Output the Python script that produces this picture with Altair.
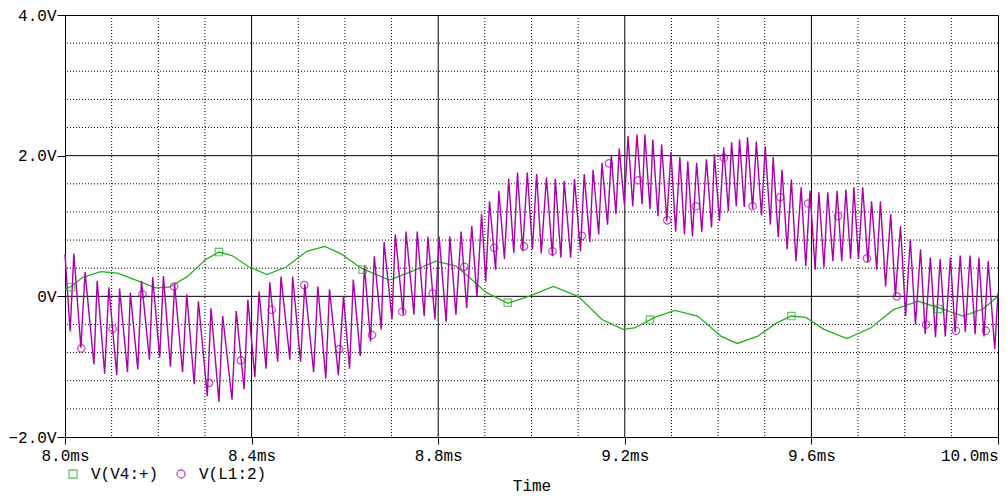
import altair as alt
import pandas as pd

# ---------------- data ----------------
mag_t = [8.000, 8.011, 8.019, 8.034, 8.043, 8.062, 8.069, 8.085, 8.094, 8.111,
         8.117, 8.134, 8.140, 8.156, 8.164, 8.181, 8.188, 8.203, 8.211, 8.226,
         8.235, 8.252, 8.261, 8.277, 8.286, 8.305, 8.313, 8.330, 8.338, 8.358,
         8.367, 8.384, 8.392, 8.407,
         8.416, 8.431, 8.439, 8.456, 8.463, 8.482, 8.488, 8.505, 8.514, 8.533,
         8.542, 8.559, 8.567, 8.586, 8.597, 8.610, 8.618, 8.633, 8.642, 8.655,
         8.663, 8.678, 8.684, 8.701, 8.708, 8.725, 8.731, 8.748, 8.755, 8.770,
         8.778, 8.793, 8.802,
         8.817, 8.825, 8.838, 8.849, 8.861, 8.872, 8.883, 8.893, 8.902, 8.910,
         8.923, 8.930, 8.942, 8.951, 8.962, 8.970, 8.981, 8.991, 9.002, 9.011,
         9.021, 9.032, 9.045, 9.051, 9.063, 9.070, 9.084, 9.092, 9.105, 9.113,
         9.125, 9.132, 9.144, 9.151, 9.163, 9.171, 9.181, 9.188, 9.199,
         9.207, 9.217, 9.226, 9.237, 9.243, 9.254, 9.260, 9.271, 9.279, 9.290,
         9.299, 9.309, 9.318, 9.328, 9.335, 9.345, 9.354, 9.365, 9.375, 9.386,
         9.392, 9.403, 9.412, 9.422, 9.429, 9.439, 9.446, 9.456, 9.463, 9.474,
         9.482, 9.493, 9.501, 9.512, 9.518, 9.529, 9.537, 9.548, 9.557, 9.567,
         9.578, 9.588, 9.597, 9.608,
         9.616, 9.627, 9.635, 9.646, 9.655, 9.665, 9.674, 9.684, 9.691, 9.701,
         9.710, 9.721, 9.729, 9.740, 9.748, 9.759, 9.770, 9.780, 9.791, 9.802,
         9.812, 9.823, 9.834, 9.844, 9.855, 9.866, 9.876, 9.887, 9.898, 9.908,
         9.919, 9.930, 9.940, 9.951, 9.959, 9.970, 9.979, 9.993, 10.000]
mag_v = [0.60, -0.50, 0.61, -0.73, 0.35, -0.97, 0.22, -1.10, 0.13, -1.12,
         0.11, -1.08, 0.05, -1.04, 0.22, -0.90, 0.27, -0.87, 0.29, -1.00,
         0.17, -1.08, 0.03, -1.25, -0.07, -1.42, -0.17, -1.50, -0.28, -1.47,
         -0.21, -1.32, -0.05, -1.15,
         0.07, -1.03, 0.20, -0.93, 0.28, -0.90, 0.28, -0.93, 0.17, -1.08,
         0.14, -1.17, 0.10, -1.12, 0.00, -1.03, 0.24, -0.85, 0.43, -0.64,
         0.57, -0.47, 0.77, -0.33, 0.88, -0.26, 0.92, -0.26, 0.92, -0.28,
         0.85, -0.33, 0.85,
         -0.36, 0.85, -0.26, 0.92, -0.17, 1.00, -0.01, 1.17, 0.21, 1.35,
         0.38, 1.50, 0.53, 1.67, 0.62, 1.76, 0.64, 1.76, 0.67, 1.74,
         0.61, 1.69, 0.57, 1.67, 0.55, 1.64, 0.55, 1.67, 0.64, 1.74,
         0.77, 1.80, 0.88, 1.90, 1.02, 2.00, 1.17, 2.10, 1.31,
         2.28, 1.28, 2.30, 1.31, 2.30, 1.24, 2.23, 1.14, 2.16, 1.07,
         2.05, 0.92, 1.98, 0.88, 1.92, 0.85, 1.90, 0.92, 1.95, 0.98,
         2.02, 1.07, 2.12, 1.21, 2.19, 1.28, 2.23, 1.27, 2.26, 1.24,
         2.20, 1.15, 2.13, 1.02, 1.98, 0.84, 1.80, 0.67, 1.66, 0.50,
         1.55, 0.43, 1.50, 0.38,
         1.48, 0.41, 1.48, 0.50, 1.50, 0.50, 1.52, 0.53, 1.55, 0.53,
         1.55, 0.48, 1.35, 0.38, 1.35, 0.14, 1.17, 0.00, 1.00, -0.28,
         0.81, -0.40, 0.67, -0.54, 0.55, -0.58, 0.53, -0.57, 0.55, -0.51,
         0.58, -0.51, 0.58, -0.54, 0.55, -0.57, 0.50, -0.75, 0.05]

grn_t = [8.000, 8.013, 8.038, 8.077, 8.113, 8.156, 8.194, 8.224, 8.262, 8.301,
         8.330, 8.358, 8.394, 8.433, 8.475, 8.518, 8.557, 8.593, 8.635, 8.695,
         8.742, 8.795, 8.838, 8.870, 8.902, 8.949, 8.994, 9.047, 9.100, 9.151,
         9.196, 9.221, 9.264, 9.307, 9.356, 9.407, 9.441, 9.484, 9.525, 9.557,
         9.588, 9.627, 9.676, 9.727, 9.776, 9.829, 9.872, 9.925, 9.968, 10.000]
grn_v = [0.10, 0.14, 0.27, 0.35, 0.33, 0.22, 0.12, 0.13, 0.28, 0.52,
         0.63, 0.58, 0.42, 0.31, 0.42, 0.64, 0.71, 0.60, 0.40, 0.23,
         0.35, 0.50, 0.43, 0.25, 0.06, -0.10, 0.00, 0.14, 0.00, -0.33,
         -0.47, -0.45, -0.30, -0.20, -0.28, -0.57, -0.67, -0.57, -0.38, -0.28,
         -0.30, -0.47, -0.60, -0.45, -0.19, -0.07, -0.16, -0.28, -0.18, 0.00]

sq_t = [8.013, 8.330, 8.638, 8.949, 9.254, 9.557, 9.872]
sq_v = [0.13, 0.63, 0.38, -0.09, -0.33, -0.28, -0.18]

circ_t = [8.035, 8.102, 8.166, 8.234, 8.309, 8.377, 8.443, 8.513, 8.588, 8.658,
          8.723, 8.788, 8.856, 8.920, 8.984, 9.045, 9.108, 9.166, 9.229, 9.291,
          9.352, 9.412, 9.474, 9.533, 9.593, 9.657, 9.719, 9.783, 9.846, 9.910,
          9.974]
circ_v = [-0.74, -0.46, 0.03, 0.14, -1.23, -0.91, -0.19, 0.16, -0.75, -0.55,
          -0.22, 0.04, 0.42, 0.69, 0.71, 0.64, 0.86, 1.89, 1.65, 1.08,
          1.28, 1.97, 1.28, 1.41, 1.32, 1.14, 0.54, 0.00, -0.40, -0.49,
          -0.49]

series_names = ["V(V4:+)", "V(L1:2)"]
series_colors = ["#1fb01f", "#aa00aa"]

x_ticks = [8.0, 8.4, 8.8, 9.2, 9.6, 10.0]
x_major = [8.4, 8.8, 9.2, 9.6]
x_minor = [8.1, 8.2, 8.3, 8.5, 8.6, 8.7, 8.9, 9.0, 9.1, 9.3, 9.4, 9.5, 9.7, 9.8, 9.9]
y_ticks = [-2, 0, 2, 4]
y_major = [0, 2]
y_minor = [-1.6, -1.2, -0.8, -0.4, 0.4, 0.8, 1.2, 1.6, 2.4, 2.8, 3.2, 3.6]

# ---------------- chart ----------------
FONT = "Liberation Mono"
FS = 16

xs = alt.Scale(domain=[8.0, 10.0], nice=False, zero=False)
ys = alt.Scale(domain=[-2.0, 4.0], nice=False, zero=False)

xaxis = alt.Axis(
    values=x_ticks, labelExpr="format(datum.value, '.1f') + 'ms'",
    labelFont=FONT, labelFontSize=FS, labelColor="black",
    labelAlign={"condition": {"test": "datum.value >= 9.99", "value": "right"}, "value": "center"},
    tickSize=7, tickColor="black", domain=False, grid=False, labelPadding=3,
    title="Time", titleFont=FONT, titleFontSize=FS, titleFontWeight="normal",
    titleColor="black", titlePadding=14,
)
yaxis = alt.Axis(
    values=y_ticks, labelExpr="datum.value == 0 ? '0V' : format(datum.value, '.1f') + 'V'",
    labelFont=FONT, labelFontSize=FS, labelColor="black",
    tickSize=8, tickColor="black", domain=False, grid=False, labelPadding=1,
    title=None,
)

df_mag = pd.DataFrame({"t": mag_t, "v": mag_v})
df_grn = pd.DataFrame({"t": grn_t, "v": grn_v})
df_mk = pd.DataFrame({
    "t": sq_t + circ_t,
    "v": sq_v + circ_v,
    "s": [series_names[0]] * len(sq_t) + [series_names[1]] * len(circ_t),
})

X = lambda: alt.X("t:Q", scale=xs, axis=xaxis, title="Time")
Y = lambda: alt.Y("v:Q", scale=ys, axis=yaxis, title=None)

vminor = alt.Chart(pd.DataFrame({"t": x_minor})).mark_rule(
    color="black", strokeWidth=1, strokeDash=[1, 2]
).encode(x=X())
hminor = alt.Chart(pd.DataFrame({"v": y_minor})).mark_rule(
    color="black", strokeWidth=1, strokeDash=[1, 2]
).encode(y=Y())
vmajor = alt.Chart(pd.DataFrame({"t": x_major})).mark_rule(
    color="black", strokeWidth=1
).encode(x=X())
hmajor = alt.Chart(pd.DataFrame({"v": y_major})).mark_rule(
    color="black", strokeWidth=1
).encode(y=Y())

green = alt.Chart(df_grn).mark_line(color=series_colors[0], strokeWidth=1.3).encode(
    x=X(), y=Y()
)
magenta = alt.Chart(df_mag).mark_line(color=series_colors[1], strokeWidth=1.4).encode(
    x=X(), y=Y()
)

leg = alt.Legend(orient="none", legendX=0, legendY=451,
                 direction="horizontal", title=None,
                 labelFont=FONT, labelFontSize=FS,
                 labelColor="black", symbolSize=64,
                 symbolStrokeWidth=1.3, labelOffset=10,
                 columnPadding=14)
markers = alt.Chart(df_mk).mark_point(filled=False, strokeWidth=1.2, size=55).encode(
    x=X(), y=Y(),
    color=alt.Color("s:N", scale=alt.Scale(domain=series_names, range=series_colors),
                    legend=leg),
    shape=alt.Shape("s:N", scale=alt.Scale(domain=series_names, range=["square", "circle"]),
                    legend=leg),
)

chart = alt.layer(vminor, hminor, vmajor, hmajor, green, magenta, markers).properties(
    width=933, height=422,
    autosize=alt.AutoSizeParams(type="none"),
    padding={"left": 57, "top": 7, "right": 1, "bottom": 59},
    background="white",
).configure_view(stroke="black", strokeWidth=1)

chart.save("out.html", embed_options={"renderer": "svg", "actions": False})
